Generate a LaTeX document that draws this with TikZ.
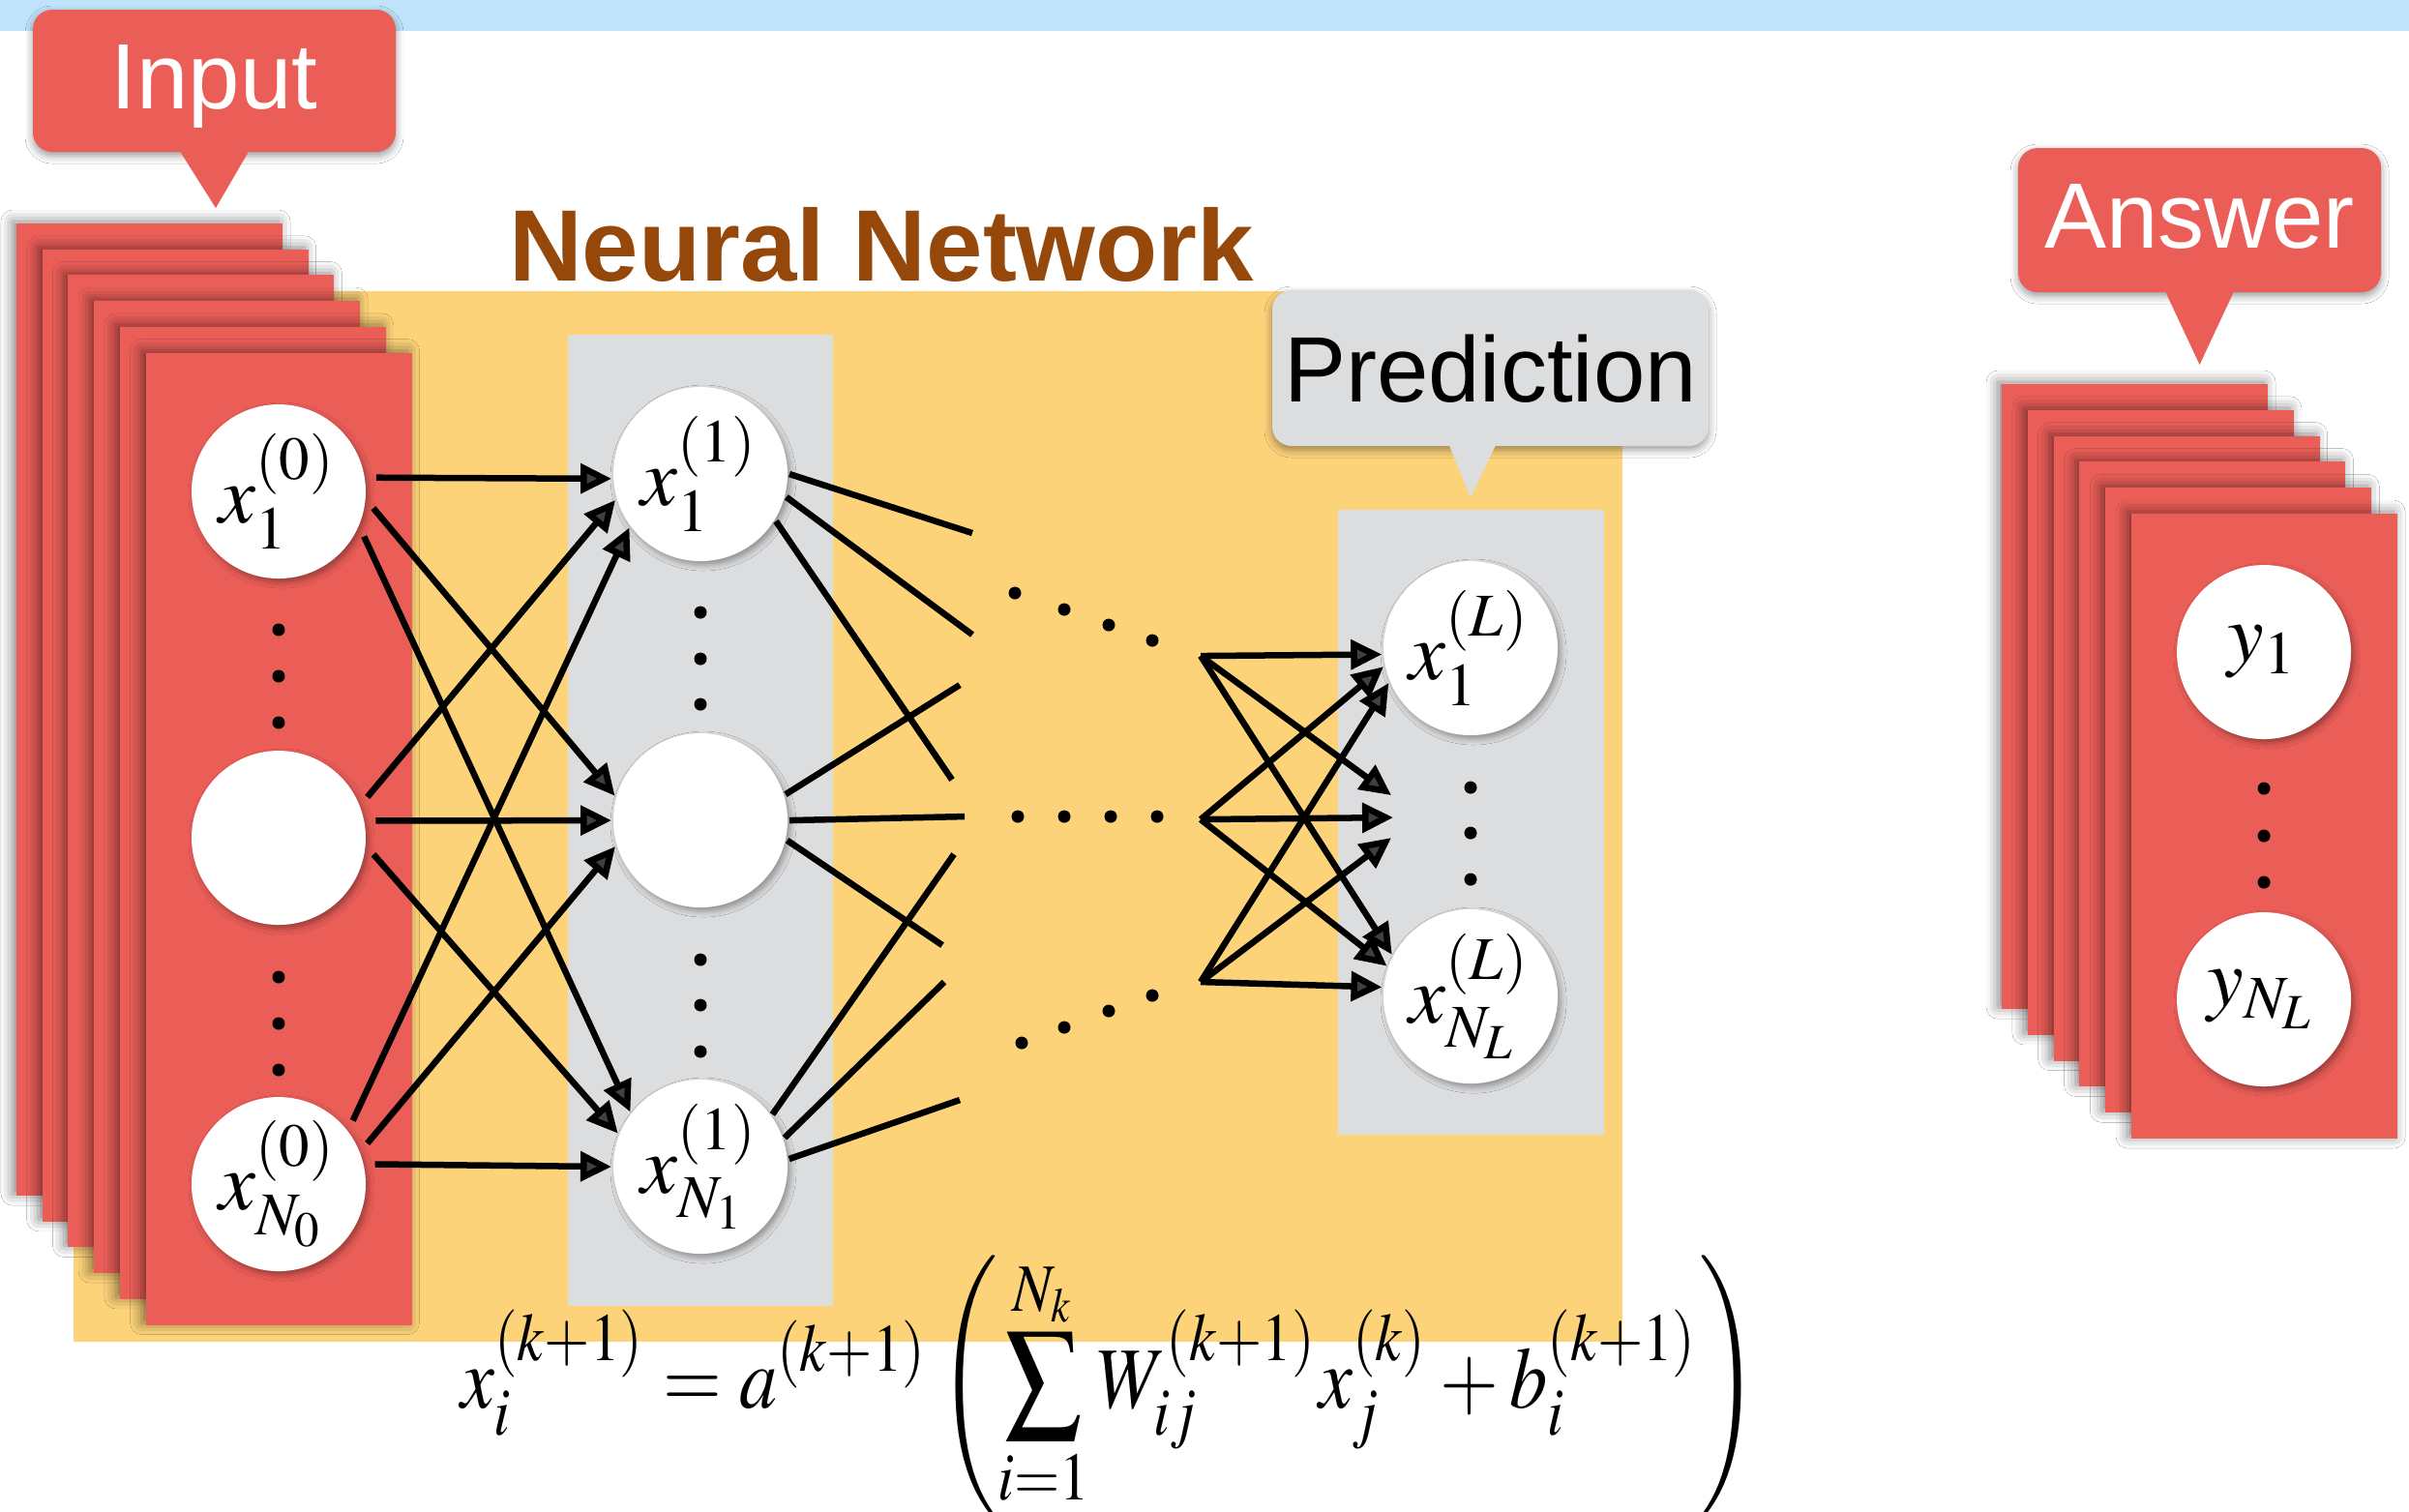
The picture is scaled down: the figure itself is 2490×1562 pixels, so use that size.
\documentclass[tikz,border=0pt]{standalone}
\usepackage{mathptmx}
\usepackage[no-math]{fontspec}
\setmainfont{Liberation Serif}
\newfontfamily\labelfont{Liberation Sans}
\usepackage{graphicx}
\usepackage{tikz}
\usetikzlibrary{arrows.meta, shadows.blur}
\definecolor{cardred}{RGB}{235,94,88}
\definecolor{netyellow}{RGB}{253,211,122}
\definecolor{colgrey}{RGB}{220,221,223}
\definecolor{topblue}{RGB}{190,227,250}
\definecolor{nnbrown}{RGB}{150,72,10}
\tikzset{
  card/.style={fill=cardred,
               blur shadow={shadow xshift=-0.4pt, shadow yshift=0.2pt,
                            shadow blur radius=1.2pt, shadow opacity=50}},
  neuron/.style={circle, fill=white, inner sep=0pt, minimum size=18pt,
                 font=\fontsize{8.5}{10}\selectfont,
                 blur shadow={shadow xshift=0.3pt, shadow yshift=-0.4pt,
                              shadow blur radius=0.6pt, shadow opacity=35}},
  bubble/.style={rectangle, rounded corners=2pt, inner sep=0pt,
                 font=\labelfont\fontsize{9.6}{11}\selectfont,
                 text height=6.9pt, text depth=1.2pt,
                 blur shadow={shadow xshift=0pt, shadow yshift=-0.4pt,
                              shadow blur radius=0.8pt, shadow opacity=40}},
  wire/.style={line width=0.65pt},
  feed/.style={wire, -{Triangle[length=3.2pt,width=3pt]}},
}
\begin{document}
\begin{tikzpicture}[x=0.1pt, y=-0.1pt]
    \useasboundingbox (0,0) rectangle (2490,1562);
    \clip (0,0) rectangle (2490,1562);
    \fill[white] (0,0) rectangle (2490,1562);
    \fill[topblue] (0,0) rectangle (2490,32);

    %% Input callout
    \node[bubble, fill=cardred, text=white, minimum width=37.5pt,
          minimum height=14.7pt] (inBox) at (221.5,83.5) {Input};
    \fill[cardred] ([xshift=-3.7pt, yshift=0.5pt]inBox.south)
      -- ([xshift=0.15pt, yshift=-5.6pt]inBox.south)
      -- ([xshift=3.7pt, yshift=0.5pt]inBox.south) -- cycle;

    %% Network background
    \fill[netyellow] (76,301) rectangle (1677,1387);
    \foreach \k in {0,...,5}{
      \fill[card] ({17+26.7*\k},{231+26.7*\k}) rectangle +(275,1005);
    }
    \fill[colgrey] (587,346) rectangle (861,1350);
    \fill[colgrey] (1383,527) rectangle (1658,1173);
    \node[anchor=base west, inner sep=0pt, text=nnbrown,
          font=\labelfont\bfseries\fontsize{10.5}{12}\selectfont]
          (title) at (524,290) {Neural Network};

    %% Prediction callout
    \node[bubble, fill=colgrey, minimum width=45.1pt, minimum height=16.1pt,
          text depth=0pt] (predBox) at (1540.5,380.5) {Prediction};
    \fill[colgrey] ([xshift=-4.35pt, yshift=0.5pt]predBox.south)
      -- ([xshift=-2.05pt, yshift=-5.1pt]predBox.south)
      -- ([xshift=0.65pt, yshift=0.5pt]predBox.south) -- cycle;

    %% Answer callout and cards
    \node[bubble, fill=cardred, text=white, minimum width=37.5pt,
          minimum height=14.9pt] (ansBox) at (2273.5,227.5) {Answer};
    \fill[cardred] ([xshift=-3.65pt, yshift=0.5pt]ansBox.south)
      -- ([yshift=-7.3pt]ansBox.south)
      -- ([xshift=3.65pt, yshift=0.5pt]ansBox.south) -- cycle;
    \foreach \k in {0,...,5}{
      \fill[card] ({2069+26.8*\k},{397+26.8*\k}) rectangle +(275,646);
    }

    %% Neurons
    \node[neuron] (in1) at (288,508) {$x_1^{(0)}$};
    \node[neuron] (in2) at (288,866) {};
    \node[neuron] (in3) at (288,1224) {$x_{N_0}^{(0)}$};
    \node[neuron] (hid1) at (724,490) {$x_1^{(1)}$};
    \node[neuron] (hid2) at (724,848) {};
    \node[neuron] (hid3) at (724,1206) {$x_{N_1}^{(1)}$};
    \node[neuron] (out1) at (1520,670) {$x_1^{(L)}$};
    \node[neuron] (out2) at (1520,1030) {$x_{N_L}^{(L)}$};
    \node[neuron] (ans1) at (2340,674) {$y_1$};
    \node[neuron] (ans2) at (2340,1033) {$y_{N_L}$};

    %% Vertical dots
    \foreach \x/\y in {288/651, 288/699, 288/747, 288/1010, 288/1058, 288/1106,
                       724/633, 724/681, 724/728, 724/992, 724/1039, 724/1087,
                       1520/814, 1520/861, 1520/909, 2340/815, 2340/864, 2340/912}{
      \fill (\x,\y) circle (0.65pt);
    }
    %% Dots between layers
    \foreach \x/\y in {1049/613, 1100/630, 1146/646, 1191/662,
                       1052/844, 1100/844, 1148/844, 1196/844,
                       1056/1078, 1100/1062, 1146/1045, 1191/1029}{
      \fill (\x,\y) circle (0.65pt);
    }

    %% Input to first layer
    \foreach \s/\t/\a/\b in {1/1/9/183, 1/2/-6/164, 1/3/-24/142,
                             2/1/22/197, 2/2/11/180, 2/3/-6/158,
                             3/1/38/217, 3/2/22/197, 3/3/13/180}{
      \draw[feed, shorten <=1pt] (in\s.\a) -- (hid\t.\b);
    }
    %% First layer to the dots
    \foreach \h/\a/\x/\y [count=\n] in {1/0/1005/551, 1/-15/1005/656, 1/-32/984/806,
                                        2/17/992/708, 2/0/997/844, 2/-13/974/977,
                                        3/36/986/883, 3/19/976/1015, 3/5/992/1137}{
      \coordinate (end\n) at (\x,\y);
      \draw[wire] (hid\h.\a) -- (end\n);
    }
    %% Into the last layer
    \coordinate (src1) at (1241,678);
    \coordinate (src2) at (1241,847);
    \coordinate (src3) at (1241,1015);
    \coordinate (mid1) at (1438,822);
    \coordinate (mid2) at (1440,845);
    \coordinate (mid3) at (1438,866);
    \foreach \s/\t in {1/out1.184, 1/mid1, 1/out2.152,
                       2/out1.192, 2/mid2, 2/out2.160,
                       3/out1.203, 3/mid3, 3/out2.174}{
      \draw[feed] (src\s) -- (\t);
    }

    %% Update rule
    \node[anchor=base west, inner sep=0pt, font=\fontsize{9}{11}\selectfont]
      (rule) at (474,1455)
      {\scalebox{0.87}[1]{$\displaystyle x_i^{(k+1)} = a^{(k+1)}\left(\sum_{i=1}^{N_k}
        W_{ij}^{(k+1)}x_j^{(k)} + b_i^{(k+1)}\right)$}};
\end{tikzpicture}
\end{document}
